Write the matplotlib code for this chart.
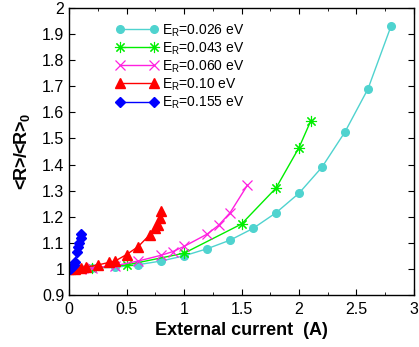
import numpy as np
import matplotlib
matplotlib.use("Agg")
import matplotlib.pyplot as plt
from matplotlib.ticker import MultipleLocator, FormatStrFormatter

plt.rcParams['font.family'] = ['Liberation Sans', 'DejaVu Sans']
plt.rcParams['mathtext.fontset'] = 'custom'
plt.rcParams['mathtext.rm'] = 'Liberation Sans'
plt.rcParams['mathtext.bf'] = 'Liberation Sans:bold'

# data
x026 = [0, 0.05, 0.1, 0.2, 0.4, 0.6, 0.8, 1.0, 1.2, 1.4, 1.6, 1.8, 2.0, 2.2, 2.4, 2.6, 2.8]
y026 = [1.0, 1.0, 1.0, 1.003, 1.006, 1.016, 1.03, 1.05, 1.077, 1.11, 1.155, 1.215, 1.29, 1.39, 1.525, 1.69, 1.93]

x043 = [0, 0.05, 0.2, 0.5, 1.0, 1.5, 1.8, 2.0, 2.1]
y043 = [1.0, 1.0, 1.003, 1.015, 1.06, 1.172, 1.31, 1.465, 1.565]

x060 = [0, 0.1, 0.2, 0.4, 0.6, 0.8, 0.9, 1.0, 1.2, 1.3, 1.4, 1.55]
y060 = [1.0, 1.0, 1.004, 1.012, 1.03, 1.052, 1.066, 1.086, 1.133, 1.167, 1.215, 1.32]

x010 = [0, 0.05, 0.1, 0.15, 0.25, 0.35, 0.4, 0.5, 0.6, 0.7, 0.75, 0.77, 0.79, 0.8]
y010 = [1.0, 1.0, 1.003, 1.007, 1.015, 1.025, 1.03, 1.055, 1.085, 1.13, 1.155, 1.17, 1.195, 1.22]

x155 = [0, 0.01, 0.02, 0.03, 0.04, 0.05, 0.07, 0.08, 0.09, 0.1, 0.105]
y155 = [1.0, 1.0, 1.005, 1.01, 1.015, 1.025, 1.065, 1.085, 1.1, 1.12, 1.135]

labels = ['E$_\\mathregular{R}$=0.026 eV', 'E$_\\mathregular{R}$=0.043 eV',
          'E$_\\mathregular{R}$=0.060 eV', 'E$_\\mathregular{R}$=0.10 eV',
          'E$_\\mathregular{R}$=0.155 eV']

fig = plt.figure(figsize=(4.19, 3.47), dpi=100)
ax = fig.add_axes([0.165, 0.15, 0.823, 0.827])

ax.plot(x026, y026, '-o', color='#4fd3cf', lw=1, ms=5.5, label=labels[0])
ax.plot(x043, y043, '-', marker=(8, 2, 0), color='#00ee00', lw=1, ms=8, mew=0.8, label=labels[1])
ax.plot(x060, y060, '-x', color='#ff20e0', lw=1, ms=6.5, mew=0.9, label=labels[2])
ax.plot(x010, y010, '-^', color='#ff0000', lw=1, ms=6.5, label=labels[3])
ax.plot(x155, y155, '-D', color='#0000ff', lw=1, ms=5.5, label=labels[4])

ax.set_xlim(0, 3)
ax.set_ylim(0.9, 2)
ax.xaxis.set_major_locator(MultipleLocator(0.5))
ax.xaxis.set_minor_locator(MultipleLocator(0.25))
ax.yaxis.set_major_locator(MultipleLocator(0.1))
ax.xaxis.set_major_formatter(FormatStrFormatter('%g'))
ax.yaxis.set_major_formatter(FormatStrFormatter('%g'))
ax.tick_params(which='both', direction='in', top=True, right=True, labelsize=11.5)
ax.tick_params(which='major', length=4)
ax.tick_params(which='minor', length=2)
ax.tick_params(axis='x', pad=5)
for s in ax.spines.values():
    s.set_linewidth(1)

ax.set_xlabel('External current  (A)', fontsize=13, fontweight='bold', labelpad=4)
ax.set_ylabel('<R>/<R>$_\\mathbf{0}$', fontsize=13, fontweight='bold', labelpad=7)

ax.legend(loc='upper left', bbox_to_anchor=(0.12, 0.97), frameon=False, fontsize=10,
          handlelength=3.0, handletextpad=0.3, labelspacing=0.12, numpoints=2,
          borderaxespad=0)

fig.savefig('out.png', dpi=100)
